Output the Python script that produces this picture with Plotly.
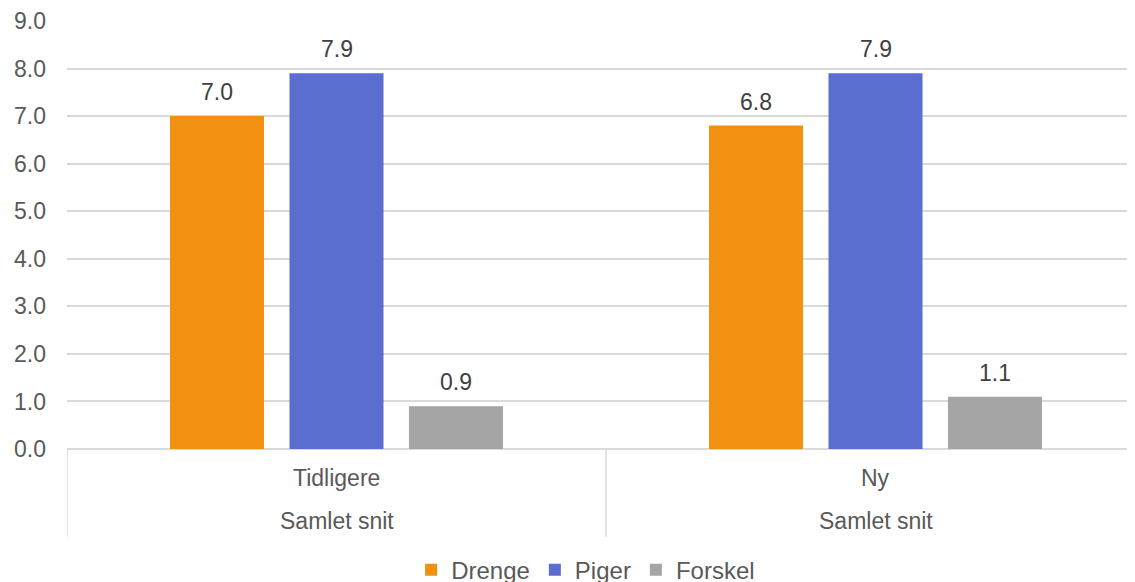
import plotly.graph_objects as go

categories = ["Tidligere", "Ny"]
group_label = "Samlet snit"
drenge = [7.0, 6.8]
piger = [7.9, 7.9]
forskel = [0.9, 1.1]
y_ticks = [0, 1, 2, 3, 4, 5, 6, 7, 8, 9]
y_tick_labels = ["%.1f" % v for v in y_ticks]

series = [("Drenge", drenge, "#F29111"), ("Piger", piger, "#5A6ECF"), ("Forskel", forskel, "#A5A5A5")]

FONT = "Liberation Sans, Arial, sans-serif"
BARGAP = 0.335
BARGROUPGAP = 0.213
xpos = list(range(len(categories)))
slot = (1 - BARGAP) / len(series)

fig = go.Figure()
for k, (name, vals, col) in enumerate(series):
    fig.add_trace(go.Bar(
        x=xpos, y=vals, name=name, marker=dict(color=col, line=dict(width=0)),
    ))
    for i, v in zip(xpos, vals):
        fig.add_annotation(x=i + (k - (len(series) - 1) / 2) * slot, y=v, xref="x", yref="y",
                           text="%.1f" % v, showarrow=False, yanchor="middle", yshift=24,
                           font=dict(family=FONT, size=23, color="#404040"))

# category labels
for i, c in enumerate(categories):
    fig.add_annotation(x=i, y=-0.068, xref="x", yref="paper", text=c, showarrow=False,
                       font=dict(family=FONT, size=23, color="#595959"), yanchor="middle")
    fig.add_annotation(x=i, y=-0.168, xref="x", yref="paper", text=group_label, showarrow=False,
                       font=dict(family=FONT, size=23, color="#595959"), yanchor="middle")

# separators
for b in [-0.5, 0.5]:
    fig.add_shape(type="line", xref="x", yref="paper", x0=b, x1=b, y0=0, y1=-0.205,
                  line=dict(color="#D9D9D9", width=1.5))

fig.update_layout(
    width=1135, height=582,
    margin=dict(l=59, r=0, t=13, b=141, autoexpand=False),
    paper_bgcolor="white", plot_bgcolor="white",
    barmode="group", bargap=BARGAP, bargroupgap=BARGROUPGAP,
    font=dict(family=FONT, color="#595959"),
    showlegend=True,
    legend=dict(orientation="h", x=0.482, xanchor="center", y=-0.283, yanchor="middle",
                font=dict(family=FONT, size=24, color="#595959"), itemwidth=30,
                traceorder="normal"),
    xaxis=dict(range=[-0.5, -0.5 + 1076 / 539], showticklabels=False, showgrid=False,
               zeroline=False, showline=False, ticks="", automargin=False),
    yaxis=dict(range=[0, 9], tickvals=y_ticks, ticktext=y_tick_labels, showgrid=True,
               gridcolor="#D9D9D9", gridwidth=1.5, zeroline=True, zerolinecolor="#D9D9D9",
               zerolinewidth=2, showline=False, ticks="", ticklabelstandoff=20,
               automargin=False,
               tickfont=dict(family=FONT, size=23, color="#595959")),
)

fig.write_html("out.html")
